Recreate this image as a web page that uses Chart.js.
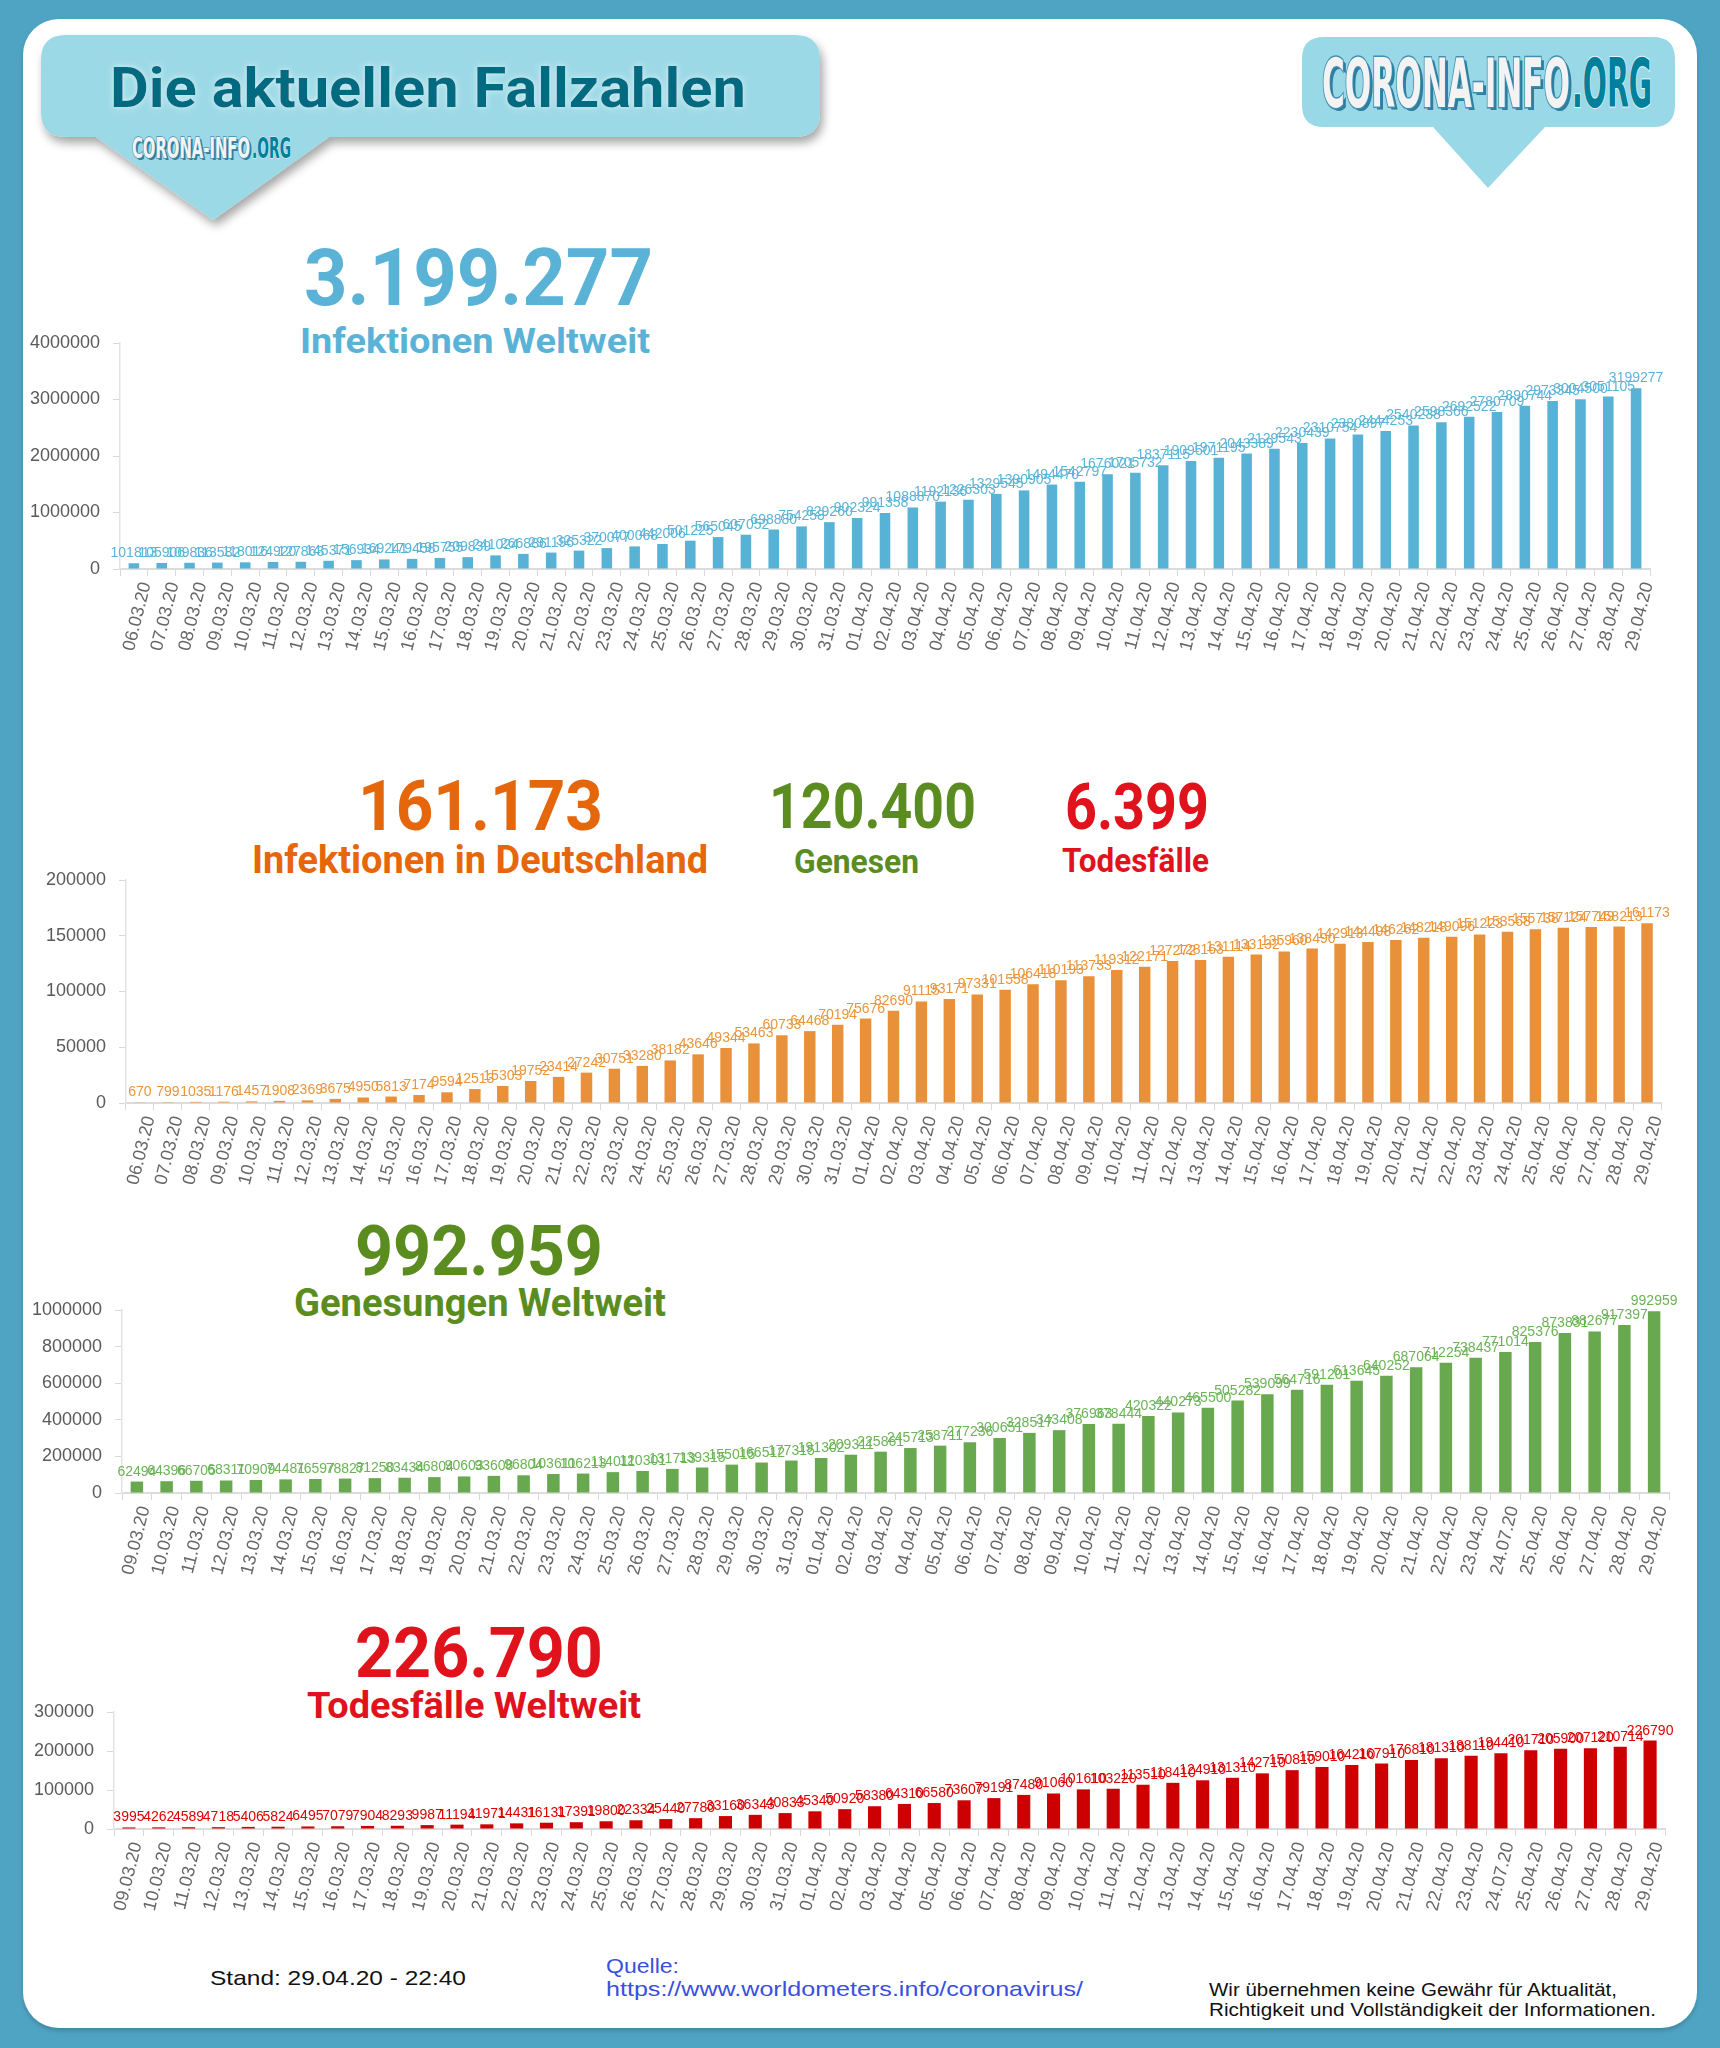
<!DOCTYPE html>
<html lang="de">
<head>
<meta charset="utf-8">
<title>Die aktuellen Fallzahlen</title>
<script src="https://cdn.jsdelivr.net/npm/chart.js@4.4.1/dist/chart.umd.min.js"></script>
<style>
  html, body { margin:0; padding:0; background:#4fa4c3; width:1720px; height:2048px; overflow:hidden; }
  #deco { position:absolute; left:0; top:0; z-index:0; }
  canvas { position:absolute; left:0; z-index:1; }
</style>
</head>
<body>
<svg id="deco" width="1720" height="2048" viewBox="0 0 1720 2048" xmlns="http://www.w3.org/2000/svg">
  <defs>
    <filter id="sh" x="-10%" y="-20%" width="130%" height="160%">
      <feDropShadow dx="3" dy="6" stdDeviation="5" flood-color="#000" flood-opacity="0.35"/>
    </filter>
    <filter id="cardsh" x="-5%" y="-5%" width="110%" height="110%">
      <feDropShadow dx="0" dy="3" stdDeviation="2" flood-color="#000" flood-opacity="0.18"/>
    </filter>
    <filter id="glow" x="-5%" y="-20%" width="110%" height="140%">
      <feGaussianBlur in="SourceAlpha" stdDeviation="3" result="b"/>
      <feFlood flood-color="#dff6fa" flood-opacity="0.9"/>
      <feComposite in2="b" operator="in" result="g"/>
      <feMerge><feMergeNode in="g"/><feMergeNode in="SourceGraphic"/></feMerge>
    </filter>
  </defs>
  <rect x="0" y="0" width="1720" height="2048" fill="#4fa4c3"/>
  <rect x="23" y="19" width="1674" height="2009" rx="36" ry="36" fill="#ffffff" filter="url(#cardsh)"/>

  <!-- left speech bubble -->
  <path d="M66,35 H795 Q820,35 820,60 V112 Q820,137 795,137 H329 L213,220 L96,137 H66 Q41,137 41,112 V60 Q41,35 66,35 Z" fill="#9cd9e6" filter="url(#sh)"/>
  <text x="110" y="107" font-family="Roboto, 'Open Sans', sans-serif" font-weight="700" font-size="56" fill="#006a80" textLength="636" lengthAdjust="spacingAndGlyphs" filter="url(#glow)">Die aktuellen Fallzahlen</text>
  <g font-family="'Liberation Sans Narrow', 'DejaVu Sans Condensed', Roboto, sans-serif" font-weight="700" font-size="28">
    <text x="134" y="160" fill="#2f7e9f" textLength="118" lengthAdjust="spacingAndGlyphs">CORONA-INFO</text>
    <text x="132" y="158" fill="#f3f3f3" stroke="#3f8fb1" stroke-width="1.5" paint-order="stroke" textLength="118" lengthAdjust="spacingAndGlyphs">CORONA-INFO</text>
    <text x="252" y="158" fill="#00809b" stroke="#e8f6f9" stroke-width="1" paint-order="stroke" textLength="39" lengthAdjust="spacingAndGlyphs">.ORG</text>
  </g>

  <!-- right speech bubble -->
  <path d="M1324,37 H1653 Q1675,37 1675,59 V105 Q1675,127 1653,127 H1545 L1488,188 L1433,127 H1324 Q1302,127 1302,105 V59 Q1302,37 1324,37 Z" fill="#99d8e6"/>
  <g font-family="'Liberation Sans Narrow', 'DejaVu Sans Condensed', Roboto, sans-serif" font-weight="700" font-size="68">
    <text x="1325" y="110" fill="#2f7e9f" textLength="248" lengthAdjust="spacingAndGlyphs">CORONA-INFO</text>
    <text x="1322" y="107" fill="#f3f3f3" stroke="#3f8fb1" stroke-width="3" paint-order="stroke" textLength="248" lengthAdjust="spacingAndGlyphs">CORONA-INFO</text>
    <text x="1572" y="107" fill="#00809b" stroke="#eaf7fa" stroke-width="2" paint-order="stroke" textLength="80" lengthAdjust="spacingAndGlyphs">.ORG</text>
  </g>

  <!-- headings -->
  <g font-family="Roboto, 'Open Sans', sans-serif" font-weight="700">
    <text x="304" y="305" font-size="80" fill="#5ab3d6" textLength="349" lengthAdjust="spacingAndGlyphs">3.199.277</text>
    <text x="300" y="353" font-size="35" fill="#5ab3d6" textLength="350" lengthAdjust="spacingAndGlyphs">Infektionen Weltweit</text>

    <text x="358" y="830" font-size="70" fill="#e6660b" textLength="245" lengthAdjust="spacingAndGlyphs">161.173</text>
    <text x="252" y="873" font-size="38" fill="#e6660b" textLength="456" lengthAdjust="spacingAndGlyphs">Infektionen in Deutschland</text>
    <text x="769" y="828" font-size="63" fill="#5a8c1f" textLength="207" lengthAdjust="spacingAndGlyphs">120.400</text>
    <text x="794" y="873" font-size="33" fill="#5a8c1f" textLength="125" lengthAdjust="spacingAndGlyphs">Genesen</text>
    <text x="1065" y="829" font-size="65" fill="#e0121b" textLength="144" lengthAdjust="spacingAndGlyphs">6.399</text>
    <text x="1062" y="872" font-size="34" fill="#e0121b" textLength="147" lengthAdjust="spacingAndGlyphs">Todesfälle</text>

    <text x="355" y="1275" font-size="70" fill="#5a8c1f" textLength="248" lengthAdjust="spacingAndGlyphs">992.959</text>
    <text x="294" y="1316" font-size="38" fill="#5a8c1f" textLength="372" lengthAdjust="spacingAndGlyphs">Genesungen Weltweit</text>

    <text x="355" y="1677" font-size="70" fill="#e0121b" textLength="248" lengthAdjust="spacingAndGlyphs">226.790</text>
    <text x="307" y="1718" font-size="37" fill="#e0121b" textLength="334" lengthAdjust="spacingAndGlyphs">Todesfälle Weltweit</text>
  </g>

  <!-- footer -->
  <g font-family="'Liberation Sans', Arial, sans-serif">
    <text x="210" y="1985" font-size="21" fill="#111" textLength="256" lengthAdjust="spacingAndGlyphs">Stand: 29.04.20 - 22:40</text>
    <text x="606" y="1973" font-size="21" fill="#3a4fe0" textLength="73" lengthAdjust="spacingAndGlyphs">Quelle:</text>
    <text x="606" y="1996" font-size="21" fill="#3a4fe0" textLength="477" lengthAdjust="spacingAndGlyphs">https://www.worldometers.info/coronavirus/</text>
    <text x="1209" y="1996" font-size="17.5" fill="#111" textLength="408" lengthAdjust="spacingAndGlyphs">Wir übernehmen keine Gewähr für Aktualität,</text>
    <text x="1209" y="2016" font-size="17.5" fill="#111" textLength="447" lengthAdjust="spacingAndGlyphs">Richtigkeit und Vollständigkeit der Informationen.</text>
  </g>
</svg>

<canvas id="c1"></canvas>
<canvas id="c2"></canvas>
<canvas id="c3"></canvas>
<canvas id="c4"></canvas>

<script>
// ---------- data ----------
const datesFrom0603 = ['06.03.20','07.03.20','08.03.20','09.03.20','10.03.20','11.03.20','12.03.20','13.03.20','14.03.20','15.03.20','16.03.20','17.03.20','18.03.20','19.03.20','20.03.20','21.03.20','22.03.20','23.03.20','24.03.20','25.03.20','26.03.20','27.03.20','28.03.20','29.03.20','30.03.20','31.03.20','01.04.20','02.04.20','03.04.20','04.04.20','05.04.20','06.04.20','07.04.20','08.04.20','09.04.20','10.04.20','11.04.20','12.04.20','13.04.20','14.04.20','15.04.20','16.04.20','17.04.20','18.04.20','19.04.20','20.04.20','21.04.20','22.04.20','23.04.20','24.04.20','25.04.20','26.04.20','27.04.20','28.04.20','29.04.20'];

const datesFrom0903 = ['09.03.20','10.03.20','11.03.20','12.03.20','13.03.20','14.03.20','15.03.20','16.03.20','17.03.20','18.03.20','19.03.20','20.03.20','21.03.20','22.03.20','23.03.20','24.03.20','25.03.20','26.03.20','27.03.20','28.03.20','29.03.20','30.03.20','31.03.20','01.04.20','02.04.20','03.04.20','04.04.20','05.04.20','06.04.20','07.04.20','08.04.20','09.04.20','10.04.20','11.04.20','12.04.20','13.04.20','14.04.20','15.04.20','16.04.20','17.04.20','18.04.20','19.04.20','20.04.20','21.04.20','22.04.20','23.04.20','24.07.20','25.04.20','26.04.20','27.04.20','28.04.20','29.04.20'];

const infektionenWeltweit = [101813,105906,109836,113582,118016,124920,127863,145371,156934,169241,179458,195755,209839,241024,266886,291196,325322,370077,400068,442006,501225,565045,607052,698880,754258,829260,902324,991358,1088870,1192136,1226303,1329545,1390905,1494470,1542797,1676021,1705732,1837115,1909501,1971195,2043389,2129543,2230439,2310754,2380897,2444253,2540238,2598366,2692522,2780709,2890744,2973345,3004500,3051105,3199277];

const infektionenDeutschland = [670,799,1035,1176,1457,1908,2369,3675,4950,5813,7174,9594,12513,15303,19752,23414,27242,30751,33280,38182,43646,49344,53463,60733,64468,70194,75676,82690,91115,93171,97331,101558,106418,110193,113733,119312,122171,127272,128163,131114,133132,135960,138490,142913,144498,146262,148218,149096,151223,153568,155738,157124,157749,158213,161173];

const genesungenWeltweit = [62494,64396,66705,68311,70909,74481,76597,78827,81250,83434,86804,90603,93608,96804,103611,106213,114011,120301,131713,139315,155015,166512,177315,191302,209311,225861,245713,258711,277236,300651,328517,343408,376963,378444,420322,440273,465500,505282,539099,564716,591201,613645,640252,687064,712254,738437,771014,825376,873831,882677,917397,992959];

const todesfaelleWeltweit = [3995,4262,4589,4718,5406,5824,6495,7079,7904,8293,9987,11194,11971,14431,16131,17391,19800,22334,25440,27780,33160,36343,40833,45340,50920,58380,64310,66580,73607,79191,87480,91060,101610,103220,113510,118410,124910,131310,142710,150810,159010,164210,167910,176810,181310,188110,194410,201710,205900,207120,210714,226790];

const yTicks1 = { max: 4000000, step: 1000000 };
const yTicks2 = { max: 200000, step: 50000 };
const yTicks3 = { max: 1000000, step: 200000 };
const yTicks4 = { max: 300000, step: 100000 };

// ---------- rendering ----------
const FONT = "'Liberation Sans', Arial, Helvetica, sans-serif";

const barLabels = {
  id: 'barLabels',
  afterDatasetsDraw(chart, args, opts) {
    const ctx = chart.ctx;
    const meta = chart.getDatasetMeta(0);
    const data = chart.data.datasets[0].data;
    ctx.save();
    ctx.font = '14px ' + FONT;
    ctx.fillStyle = opts.color;
    ctx.textAlign = 'center';
    ctx.textBaseline = 'alphabetic';
    meta.data.forEach((el, i) => {
      ctx.fillText(String(data[i]), el.x, el.y - 6);
    });
    ctx.restore();
  }
};

function makeChart(id, labels, values, barColor, labelColor, yt, g) {
  const cv = document.getElementById(id);
  const H = g.padTop + (g.bottom - g.top) + g.xH;
  cv.width = 1720; cv.height = H;
  cv.style.width = '1720px'; cv.style.height = H + 'px';
  cv.style.top = (g.top - g.padTop) + 'px';
  return new Chart(cv, {
    type: 'bar',
    data: { labels: labels, datasets: [{ data: values, backgroundColor: barColor, borderWidth: 0,
      barPercentage: g.barPct, categoryPercentage: 1.0 }] },
    options: {
      responsive: false, animation: false, devicePixelRatio: 1,
      layout: { padding: { left: 0, right: 1720 - g.right, top: g.padTop, bottom: 0 } },
      plugins: { legend: { display: false }, tooltip: { enabled: false }, barLabels: { color: labelColor } },
      scales: {
        x: {
          grid: { display: true, drawOnChartArea: false, drawTicks: true, tickLength: 7, color: '#d9d9d9', offset: true },
          border: { display: true, color: '#dcdcdc', width: 2 },
          ticks: { autoSkip: false, minRotation: 76, maxRotation: 76, color: '#666', padding: 4,
            labelOffset: g.lblOff, font: { family: FONT, size: 18 } },
          afterFit: (s) => { s.height = g.xH; }
        },
        y: {
          min: 0, max: yt.max,
          grid: { display: true, drawOnChartArea: false, drawTicks: true, tickLength: 7, color: '#d9d9d9' },
          border: { display: true, color: '#e3e3e3', width: 1.5 },
          ticks: { stepSize: yt.step, color: '#5a5a5a', padding: 13, font: { family: FONT, size: 18 },
            callback: (v) => String(v) },
          afterFit: (s) => { s.width = g.axisX; }
        }
      }
    },
    plugins: [barLabels]
  });
}

makeChart('c1', datesFrom0603, infektionenWeltweit, '#58b2d6', '#5ab4d8', yTicks1,
  { top: 343, bottom: 569, axisX: 120, right: 1650, padTop: 32, xH: 100, barPct: 0.38, lblOff: 12 });
makeChart('c2', datesFrom0603, infektionenDeutschland, '#e8913a', '#ea953c', yTicks2,
  { top: 880, bottom: 1103, axisX: 126, right: 1661, padTop: 32, xH: 100, barPct: 0.41, lblOff: 10 });
makeChart('c3', datesFrom0903, genesungenWeltweit, '#68a84e', '#6ab455', yTicks3,
  { top: 1310, bottom: 1493, axisX: 122, right: 1669, padTop: 32, xH: 100, barPct: 0.42, lblOff: 8 });
makeChart('c4', datesFrom0903, todesfaelleWeltweit, '#cc0000', '#dd0000', yTicks4,
  { top: 1712, bottom: 1829, axisX: 114, right: 1665, padTop: 32, xH: 100, barPct: 0.44, lblOff: 8 });
</script>
</body>
</html>
